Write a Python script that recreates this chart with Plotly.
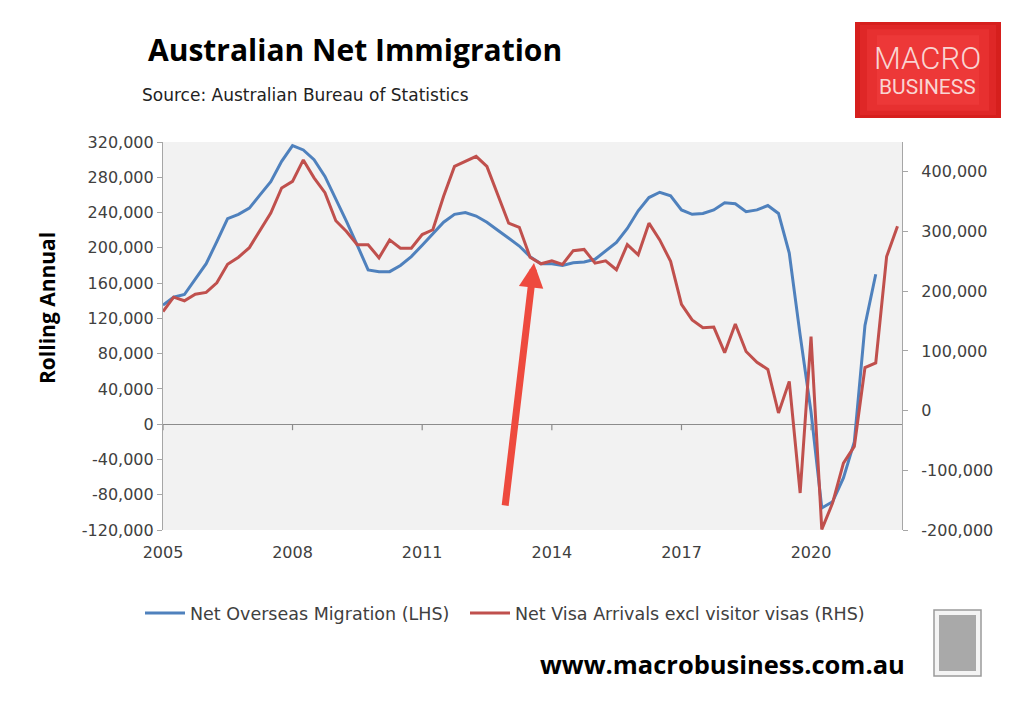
import pandas as pd
import plotly.graph_objects as go

# ---------------- data ----------------
net_overseas_migration = [
    135000, 144000, 147000, 165000, 182000, 207000, 233000, 238000, 245000, 260000,
    275000, 298000, 316000, 311000, 300000, 281000, 256000, 230000, 203000, 175000,
    173000, 173000, 180000, 190000, 203000, 216000, 229000, 238000, 240000, 236000,
    229000, 220000, 211000, 202000, 190000, 182000, 182000, 180000, 183000, 184000,
    187000, 196000, 206000, 222000, 242000, 257000, 263000, 259000, 243000, 238000,
    239000, 243000, 251000, 250000, 241000, 243000, 248000, 239000, 194000, 101000,
    14000, -95000, -88000, -61000, -20000, 112000, 170000,
]
net_visa_arrivals = [
    166000, 190000, 184000, 195000, 198000, 214000, 245000, 257000, 273000, 303000,
    331000, 373000, 384000, 420000, 390000, 365000, 318000, 300000, 278000, 278000,
    256000, 286000, 272000, 272000, 295000, 303000, 359000, 409000, 418000, 426000,
    409000, 362000, 314000, 307000, 257000, 246000, 251000, 245000, 268000, 270000,
    247000, 251000, 236000, 278000, 261000, 314000, 286000, 250000, 178000, 152000,
    139000, 140000, 97000, 145000, 99000, 81000, 69000, -4000, 49000, -138000,
    124000, -199000, -155000, -88000, -60000, 72000, 80000, 258000, 309000,
]
quarters = pd.date_range("2005-01-01", periods=len(net_visa_arrivals), freq="QS")
x_tick_years = [2005, 2008, 2011, 2014, 2017, 2020]
left_ticks = [-120000, -80000, -40000, 0, 40000, 80000, 120000, 160000, 200000, 240000, 280000, 320000]
right_ticks = [-200000, -100000, 0, 100000, 200000, 300000, 400000]

series_names = ["Net Overseas Migration (LHS)", "Net Visa Arrivals excl visitor visas (RHS)"]
series_colors = ["#4F81BD", "#C0504D"]

# ---------------- figure ----------------
OFF = 8                          # default page margin of the html body
WIN_W, WIN_H = 1024, 713
W, H = WIN_W - 2 * OFF, WIN_H - 2 * OFF
L, R, T, B = 163, 902, 142, 530  # plot area in window pixels


def px(xp):
    return (xp - L) / (R - L)


def py(yp):
    return (B - yp) / (B - T)


FONT = "Open Sans, Liberation Sans, Arial, sans-serif"
TFONT = "DejaVu Sans, Open Sans, sans-serif"
TICK_COLOR = "#404040"

fig = go.Figure()
fig.add_trace(go.Scatter(
    x=quarters[:len(net_overseas_migration)], y=net_overseas_migration,
    name=series_names[0], mode="lines",
    line=dict(color=series_colors[0], width=3), yaxis="y", legend="legend",
))
fig.add_trace(go.Scatter(
    x=quarters, y=net_visa_arrivals,
    name=series_names[1], mode="lines",
    line=dict(color=series_colors[1], width=3), yaxis="y2", legend="legend2",
))

x_tickvals = [pd.Timestamp(f"{y}-01-01") for y in x_tick_years]
legend_style = dict(
    orientation="h", xanchor="left", y=py(613), yanchor="middle",
    font=dict(family=TFONT, size=17.5, color=TICK_COLOR),
    bgcolor="rgba(0,0,0,0)", itemwidth=40,
)

fig.update_layout(
    width=W, height=H,
    margin=dict(l=L - OFF, r=(WIN_W - OFF) - R, t=T - OFF, b=(WIN_H - OFF) - B),
    paper_bgcolor="white",
    plot_bgcolor="#F2F2F2",
    font=dict(family=TFONT, size=16, color=TICK_COLOR),
    showlegend=True,
    legend=dict(x=px(140), **legend_style),
    legend2=dict(x=px(465), **legend_style),
    xaxis=dict(
        range=[pd.Timestamp("2005-01-01"), pd.Timestamp("2022-02-08")],
        tickvals=x_tickvals, ticktext=[str(y) for y in x_tick_years],
        showgrid=False, zeroline=False, showline=False, ticks="",
        ticklabelstandoff=11,
        tickfont=dict(family=TFONT, size=16, color=TICK_COLOR),
    ),
    yaxis=dict(
        range=[-120000, 320000],
        tickvals=left_ticks, ticktext=[f"{v:,}" for v in left_ticks],
        showgrid=False, zeroline=True, zerolinecolor="#8C8C8C", zerolinewidth=1.2,
        showline=True, linecolor="#A6A6A6", linewidth=1.2,
        ticks="outside", ticklen=5, tickcolor="#A6A6A6", tickwidth=1,
        tickfont=dict(family=TFONT, size=16, color=TICK_COLOR),
    ),
    yaxis2=dict(
        range=[-200000, 450000], overlaying="y", side="right",
        tickvals=right_ticks, ticktext=[f"{v:,}" for v in right_ticks],
        showgrid=False, zeroline=False,
        showline=True, linecolor="#A6A6A6", linewidth=1.2,
        ticks="outside", ticklen=5, tickcolor="#A6A6A6", tickwidth=1,
        ticklabelstandoff=10,
        tickfont=dict(family=TFONT, size=16, color=TICK_COLOR),
    ),
)

shapes = []
# x-axis tick marks hanging from the zero line
for tv in x_tickvals:
    shapes.append(dict(type="line", xref="x", yref="y", x0=tv, x1=tv,
                       ysizemode="pixel", yanchor=0, y0=0, y1=-6,
                       line=dict(color="#8C8C8C", width=1.2)))
# MacroBusiness logo (red box, layered for a soft gradient)
for inset, col in [(0, "#D61F1D"), (5, "#DF2727"), (12, "#E73030"), (22, "#ED3838")]:
    shapes.append(dict(type="rect", xref="paper", yref="paper",
                       x0=px(855 + inset), x1=px(1001 - inset),
                       y0=py(118 - inset * 0.6), y1=py(22 + inset * 0.6),
                       line=dict(width=0), fillcolor=col, layer="above"))
# wolf logo frame
shapes.append(dict(type="rect", xref="paper", yref="paper",
                   x0=px(934), x1=px(981), y0=py(676), y1=py(610),
                   line=dict(color="#9A9A9A", width=1.5), fillcolor="#F4F4F4"))
shapes.append(dict(type="rect", xref="paper", yref="paper",
                   x0=px(939), x1=px(976), y0=py(671), y1=py(615),
                   line=dict(width=0), fillcolor="#A9A9A9"))
fig.update_layout(shapes=shapes)

annotations = [
    dict(text="<b>Australian Net Immigration</b>", xref="paper", yref="paper",
         x=px(146), y=py(50), xanchor="left", yanchor="middle", showarrow=False,
         font=dict(family=FONT, size=30, color="#000000")),
    dict(text="Source: Australian Bureau of Statistics", xref="paper", yref="paper",
         x=px(140), y=py(95), xanchor="left", yanchor="middle", showarrow=False,
         font=dict(family=TFONT, size=17, color="#222222")),
    dict(text="<b>Rolling Annual</b>", xref="paper", yref="paper",
         x=px(47), y=py(308), xanchor="center", yanchor="middle", showarrow=False,
         textangle=-90, font=dict(family=FONT, size=21, color="#000000")),
    dict(text="<b>www.macrobusiness.com.au</b>", xref="paper", yref="paper",
         x=px(907), y=py(664), xanchor="right", yanchor="middle", showarrow=False,
         font=dict(family=FONT, size=25.5, color="#000000")),
    dict(text="MACRO", xref="paper", yref="paper",
         x=px(928), y=py(58), xanchor="center", yanchor="middle", showarrow=False,
         font=dict(family="Roboto, sans-serif", size=31, weight=300, color="#F9D4D2")),
    dict(text="BUSINESS", xref="paper", yref="paper",
         x=px(928), y=py(87), xanchor="center", yanchor="middle", showarrow=False,
         font=dict(family="Roboto, sans-serif", size=21, color="#F9D4D2")),
    # red pointer arrow
    dict(text="", xref="paper", yref="paper", x=px(534), y=py(263),
         ax=505 - 534, ay=507 - 263, axref="pixel", ayref="pixel",
         showarrow=True, arrowhead=2, arrowwidth=7, arrowsize=0.7,
         arrowcolor="#EE4A3E", standoff=0),
]
fig.update_layout(annotations=annotations)

fig.write_html("out.html")
